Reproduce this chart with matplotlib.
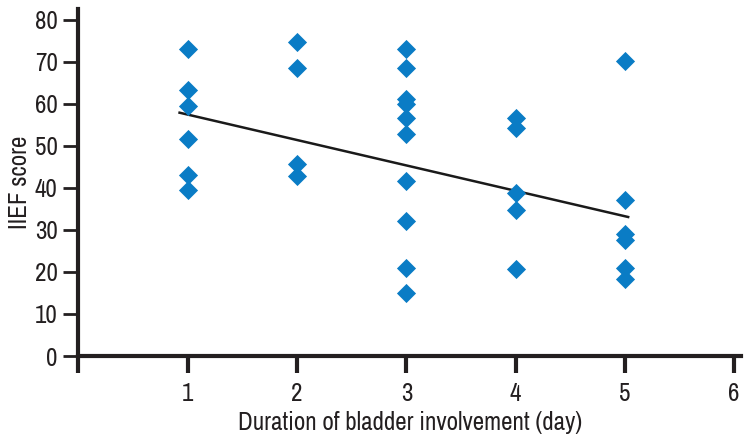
import numpy as np
import matplotlib.pyplot as plt

# duration of bladder involvement (day) vs IIEF score
days = [1, 1, 1, 1, 1, 1,
        2, 2, 2, 2,
        3, 3, 3, 3, 3, 3, 3, 3, 3, 3,
        4, 4, 4, 4, 4,
        5, 5, 5, 5, 5, 5]
iief = [73.0, 63.2, 59.5, 51.5, 43.1, 39.4,
        74.7, 68.4, 45.6, 42.8,
        73.0, 68.4, 61.1, 59.9, 56.7, 52.9, 41.7, 32.1, 21.0, 14.9,
        56.7, 54.3, 38.7, 34.7, 20.8,
        70.1, 37.1, 28.9, 27.6, 21.0, 18.2]

# trend line end points as drawn
trend_x = [0.925, 5.03]
trend_y = [57.85, 33.05]

x_ticks = [0, 1, 2, 3, 4, 5, 6]
x_ticklabels = ['', '1', '2', '3', '4', '5', '6']
y_ticks = [0, 10, 20, 30, 40, 50, 60, 70, 80]

plt.rcParams['font.family'] = ['Archivo Narrow', 'DejaVu Sans']

fig = plt.figure(figsize=(7.51, 4.40), dpi=100)
ax = fig.add_axes([0.1045, 0.1909, 0.8818, 0.7886])

ax.scatter(days, iief, marker='D', s=95, color='#0a7cc5', linewidths=0, zorder=3)
ax.plot(trend_x, trend_y, color='#1a1a1a', lw=1.8, zorder=2)

ax.set_xlim(0, 6.06)
ax.set_ylim(0, 82.5)
ax.set_xticks(x_ticks)
ax.set_xticklabels(x_ticklabels)
ax.set_yticks(y_ticks)

for side in ['top', 'right']:
    ax.spines[side].set_visible(False)
for side in ['left', 'bottom']:
    ax.spines[side].set_linewidth(3)
    ax.spines[side].set_color('#231f20')

ax.tick_params(axis='x', direction='out', length=12, width=3, color='#231f20',
               labelsize=18, pad=7, labelcolor='#231f20')
ax.tick_params(axis='y', direction='out', length=11, width=2, color='#231f20',
               labelsize=18, pad=4, labelcolor='#231f20')

ax.set_xlabel('Duration of bladder involvement (day)', fontsize=18, color='#231f20', labelpad=4)
ax.set_ylabel('IIEF score', fontsize=18, color='#231f20', labelpad=3)

plt.savefig('out.png', dpi=100)
